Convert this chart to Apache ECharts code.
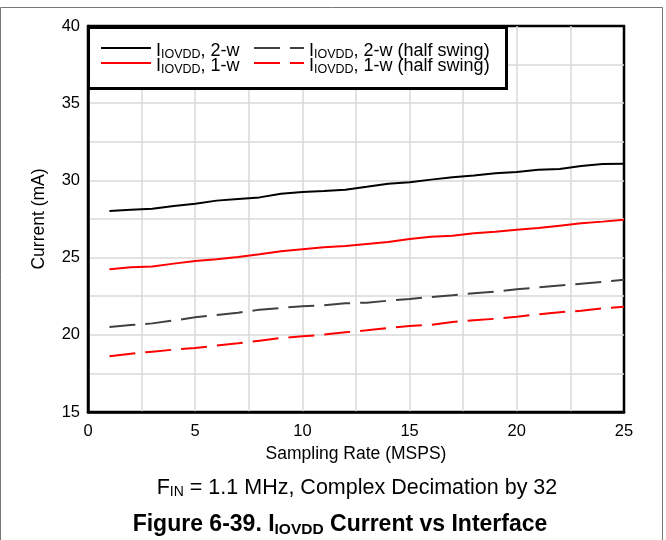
<!DOCTYPE html>
<html>
<head>
<meta charset="utf-8">
<script src="https://cdn.jsdelivr.net/npm/echarts@6/dist/echarts.min.js"></script>
<style>html,body{margin:0;padding:0;background:#fff}#c{width:666px;height:540px}</style>
</head>
<body>
<div id="c"></div>
<script>
var rates = [1,2,3,4,5,6,7,8,9,10,11,12,13,14,15,16,17,18,19,20,21,22,23,24,25];
var twoWire = [28.02,28.10,28.17,28.34,28.49,28.69,28.80,28.90,29.14,29.25,29.31,29.40,29.59,29.79,29.88,30.05,30.20,30.31,30.46,30.54,30.69,30.74,30.93,31.06,31.08];
var oneWire = [24.24,24.37,24.43,24.61,24.78,24.89,25.04,25.21,25.41,25.54,25.67,25.75,25.88,26.01,26.20,26.35,26.42,26.57,26.68,26.81,26.92,27.07,27.22,27.33,27.45];
var twoWireHalf = [20.51,20.63,20.74,20.93,21.13,21.28,21.43,21.63,21.74,21.85,21.91,22.04,22.08,22.21,22.32,22.45,22.56,22.69,22.79,22.95,23.07,23.20,23.31,23.42,23.57];
var oneWireHalf = [18.61,18.78,18.91,19.04,19.15,19.30,19.45,19.62,19.79,19.90,20.01,20.16,20.29,20.44,20.57,20.65,20.83,20.94,21.04,21.17,21.33,21.46,21.56,21.72,21.82];
var seriesNames = ['2-w','1-w','2-w (half swing)','1-w (half swing)'];
var xTicks = [0,5,10,15,20,25];
var yTicks = [15,20,25,30,35,40];

function pairs(ys){ return rates.map(function(x,i){ return [x, ys[i]]; }); }
var FONT = 'Liberation Sans, Arial, sans-serif';
var chart = echarts.init(document.getElementById('c'), null, {renderer:'canvas'});
var legendRich = {
  m: {fontSize: 18, fontFamily: FONT, color: '#000', lineHeight: 20},
  s: {fontSize: 12.5, fontFamily: FONT, color: '#000', lineHeight: 20, padding: [8,0,0,0]}
};
function legendFmt(name){ return '{m|I}{s|IOVDD}{m|, ' + name + '}'; }
function mkSeries(name, data, color, dashed){
  return {
    type: 'line', name: name, data: pairs(data), showSymbol: false, symbol: 'none',
    smooth: false, z: 5,
    lineStyle: {color: color, width: 2, type: dashed ? [26, 10] : 'solid'},
    itemStyle: {color: color}
  };
}
function mkLegend(left, top, name){
  return {
    orient: 'vertical', left: left, top: top, itemWidth: 50, itemHeight: 14, itemGap: 0, z: 10,
    padding: 0, itemStyle: {opacity: 0, borderWidth: 0},
    formatter: legendFmt, data: [name], selectedMode: false,
    textStyle: {rich: legendRich, lineHeight: 20, padding: [6,0,0,0]}
  };
}
chart.setOption({
  animation: false,
  backgroundColor: '#fff',
  grid: {left: 88, right: 42, top: 26, bottom: 128, show: true, borderColor: '#000', borderWidth: 2.5, containLabel: false},
  xAxis: {
    type: 'value', min: 0, max: 25, interval: 2.5,
    name: 'Sampling Rate (MSPS)', nameLocation: 'middle', nameGap: 25,
    nameTextStyle: {fontSize: 17.5, fontFamily: FONT, color: '#000'},
    axisLine: {show: true, lineStyle: {color: '#000', width: 2.5}},
    axisTick: {show: false},
    axisLabel: {fontSize: 16.5, fontFamily: FONT, color: '#000', margin: 11,
      formatter: function(v){ return xTicks.indexOf(v) >= 0 ? String(v) : ''; }},
    splitLine: {show: true, showMinLine: false, showMaxLine: false, lineStyle: {color: '#d9d9d9', width: 1.5}}
  },
  yAxis: {
    type: 'value', min: 15, max: 40, interval: 2.5,
    name: 'Current (mA)', nameLocation: 'middle', nameGap: 40,
    nameTextStyle: {fontSize: 17.5, fontFamily: FONT, color: '#000'},
    axisLine: {show: true, lineStyle: {color: '#000', width: 2.5}},
    axisTick: {show: false},
    axisLabel: {fontSize: 16.5, fontFamily: FONT, color: '#000', margin: 8,
      formatter: function(v){ return yTicks.indexOf(v) >= 0 ? String(v) : ''; }},
    splitLine: {show: true, showMinLine: false, showMaxLine: false, lineStyle: {color: '#d9d9d9', width: 1.5}}
  },
  legend: [
    mkLegend(100, 35, seriesNames[0]),
    mkLegend(100, 50, seriesNames[1]),
    mkLegend(253, 35, seriesNames[2]),
    mkLegend(253, 50, seriesNames[3])
  ],
  series: [
    mkSeries(seriesNames[0], twoWire, '#000000', false),
    mkSeries(seriesNames[1], oneWire, '#ff0000', false),
    mkSeries(seriesNames[2], twoWireHalf, '#404040', true),
    mkSeries(seriesNames[3], oneWireHalf, '#ff0000', true)
  ],
  title: [
    {text: '{m|F}{s|IN}{m| = 1.1 MHz, Complex Decimation by 32}', left: 357, top: 476, textAlign: 'center', padding: 0,
     textStyle: {fontWeight: 'normal', rich: {m: {fontSize: 21.5, lineHeight: 24, fontWeight: 'normal', fontFamily: FONT, color: '#000'}, s: {fontSize: 14, lineHeight: 24, fontWeight: 'normal', fontFamily: FONT, color: '#000', padding: [9,0,0,0]}}}},
    {text: '{m|Figure 6-39. I}{s|IOVDD}{m| Current vs Interface}', left: 340, top: 513, textAlign: 'center', padding: 0,
     textStyle: {rich: {m: {fontSize: 23, lineHeight: 24, fontWeight: 'bold', fontFamily: FONT, color: '#000'}, s: {fontSize: 15.5, lineHeight: 24, fontWeight: 'bold', fontFamily: FONT, color: '#000', padding: [10,0,0,0]}}}}
  ],
  graphic: [
    {type: 'rect', z: 8, shape: {x: 88, y: 27, width: 418, height: 61},
     style: {fill: '#fff', stroke: '#000', lineWidth: 2, shadowColor: '#000', shadowOffsetX: 1, shadowOffsetY: 1, shadowBlur: 0}},
    {type: 'rect', z: 0, shape: {x: 0.5, y: 7.5, width: 662, height: 540},
     style: {fill: 'none', stroke: '#777', lineWidth: 1}}
  ]
});
</script>
</body>
</html>
